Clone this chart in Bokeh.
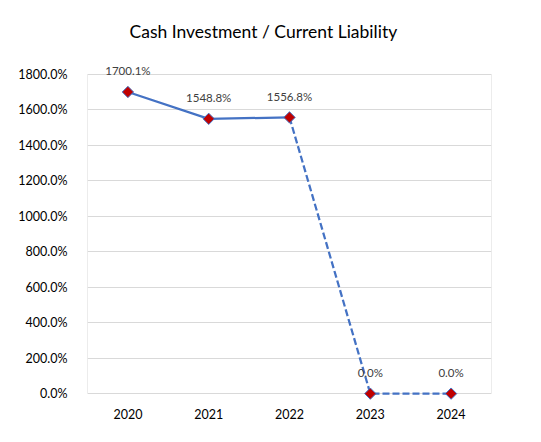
import numpy as np
from bokeh.plotting import figure
from bokeh.models import ColumnDataSource, Range1d, LabelSet, PrintfTickFormatter, FixedTicker
from bokeh.core.properties import value
from bokeh.embed import file_html
from bokeh.resources import INLINE

years = ["2020", "2021", "2022", "2023", "2024"]
values = [1700.1, 1548.8, 1556.8, 0.0, 0.0]
labels = ["1700.1%", "1548.8%", "1556.8%", "0.0%", "0.0%"]
y_ticks = [0, 200, 400, 600, 800, 1000, 1200, 1400, 1600, 1800]

FONT = "Lato"
BLUE = "#4472C4"
GRID = "#d9d9d9"

p = figure(width=540, height=440, x_range=years, y_range=Range1d(-50, 1900),
           output_backend="svg", toolbar_location=None,
           min_border_left=87, min_border_right=49, min_border_top=56, min_border_bottom=38)

p.title.text = "Cash Investment / Current Liability"
p.title.text_font = FONT
p.title.text_font_size = "17.5px"
p.title.text_font_style = "normal"
p.title.text_color = "#000000"
p.title.align = "left"
p.title.offset = 42
p.title.standoff = 30

p.outline_line_color = None
p.xgrid.grid_line_color = None
p.ygrid.grid_line_color = GRID
p.ygrid.grid_line_width = 1
p.yaxis.ticker = FixedTicker(ticks=y_ticks)
p.yaxis.formatter = PrintfTickFormatter(format="%.1f%%")
for ax in (p.xaxis[0], p.yaxis[0]):
    ax.axis_line_color = None
    ax.major_tick_line_color = None
    ax.minor_tick_line_color = None
    ax.major_label_text_font = FONT
    ax.major_label_text_font_size = "12.5px"
    ax.major_label_text_color = "#000000"
p.yaxis.major_label_standoff = 14
p.xaxis.major_label_standoff = 0

# plot-area side borders (from 0 to top tick), in synthetic categorical coords
p.segment(x0=[0, len(years)], y0=[y_ticks[0]] * 2, x1=[0, len(years)], y1=[y_ticks[-1]] * 2,
          line_color=GRID, line_width=1)

src = ColumnDataSource(dict(x=years, y=values, t=labels))
solid = ColumnDataSource(dict(x=years[:3], y=values[:3]))
dashed = ColumnDataSource(dict(x=years[2:], y=values[2:]))

p.line("x", "y", source=solid, line_color=BLUE, line_width=2.25)
p.line("x", "y", source=dashed, line_color=BLUE, line_width=2.25, line_dash="7 3")
p.scatter("x", "y", source=src, marker="square", angle=np.pi / 4, size=8,
          fill_color="#C00000", line_color=BLUE, line_width=1)

p.add_layout(LabelSet(x="x", y="y", text="t", source=src, y_offset=21,
                      text_align="center", text_baseline="middle",
                      text_font=value(FONT), text_font_size="11.5px",
                      text_color="#404040"))

open("out.html", "w").write(file_html(p, INLINE))
